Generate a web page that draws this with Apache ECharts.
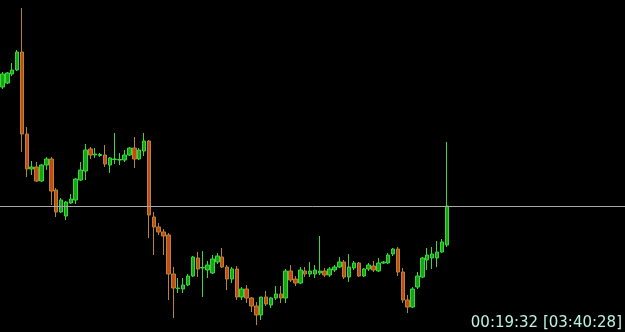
<!DOCTYPE html>
<html>
<head>
<meta charset="utf-8">
<script src="https://cdn.jsdelivr.net/npm/echarts@6/dist/echarts.min.js"></script>
<style>
html,body{margin:0;padding:0;background:#000;}
#chart{width:625px;height:332px;}
</style>
</head>
<body>
<div id="chart"></div>
<script>
// candle values (price units), index = bar number
const opens  = [245,249,258,262,280,198,163,165,151,167,173,142,120,116,129,132,152,161,183,177,176.5,177,167,172.5,172,172,177,184,173,181,191,115,105,100,97,58,43.5,43,47,56,74,64,62,59,70,75,65,53,63,35,43,34,26,17,35,27,34,38,34,61,53,49,61,58,58,59,61,57,62,65,70,55,64,69,56,63,66,61,69,69,78,83,60,32,25,45,55,72,74,74,80,87];
const closes = [258,259,262,280,198,163,165,151,167,173,141,120,132,130,133,153,162,182,177,178,177.5,168,174,173,172.5,177,184,173,182,191,117,105,100,96,58,44,44,47,56,75,63,64.5,67,73,76,65,53,63,35,43,34,26,17,35,28,34,38,34,61,52,49,62,58,61,62,61,57,63,65,70,55,65,69,56,63,67,62,69,70,77,83,60,32,25,43,56,74,77,78,80,90,126];
const lows   = [243,248,256,261,180,155,157,150,150,162,127,115,119,112,128,128,151,152,173,174,175,165,159,168,167,170,176,164,172,176,94,77,97,77,32,14,39,39,46,55,55,35,54,58,68,64,42,49,32,32,29,20,7,12,26,24,32,29,29,50,46,48,55,55,54,57,55,55,60,64,53,50,62,55,55,61,60,60,68,68,76,56,29,19,24,43,54,62,63,65,79,85];
const highs  = [260,260,269,282,324,205,171,170,168,175,175,144,134,131,138,154,170,188,185,184,179,187,175,199,179,182,185,195,184,199,192,120,109,103,99,65,54,54,58,76,80,81,71,77,79,84,67,65,66,45,47,35,30,35,41,35,46,46,63,67,56,65,65,70,67,96,64,65,67,75,72,78,71,70,64,69,71,74,71,79,84,85,64,37,45,60,75,84,85,91,93,190];
const bidLevel = 126;
const clockText = '00:19:32 [03:40:28]';
const totalSlots = 128;

const categories = [];
for (let i = 0; i < totalSlots; i++) categories.push(String(i));
const candles = opens.map((o, i) => [o, closes[i], lows[i], highs[i]]);

const chart = echarts.init(document.getElementById('chart'), null, {renderer: 'canvas'});
chart.setOption({
  backgroundColor: '#000000',
  animation: false,
  grid: {left: -2.36, top: 0, width: totalSlots * 4.91, height: 332, containLabel: false},
  xAxis: {type: 'category', data: categories, show: false, boundaryGap: true},
  yAxis: {type: 'value', min: 0, max: 332, show: false, splitLine: {show: false}},
  series: [{
    type: 'candlestick',
    data: candles,
    barWidth: 4,
    itemStyle: {
      color: '#16a416',
      borderColor: '#3bd83b',
      color0: '#c4481a',
      borderColor0: '#b8862c',
      borderWidth: 1
    },
    markLine: {
      silent: true,
      symbol: 'none',
      label: {show: false},
      lineStyle: {color: '#a8a8a8', width: 1, type: 'solid'},
      data: [{yAxis: bidLevel}]
    }
  }],
  graphic: [{
    type: 'text',
    right: 3,
    bottom: 1,
    style: {
      text: clockText,
      fill: '#bdf3df',
      font: '15px "DejaVu Sans"'
    }
  }]
});
</script>
</body>
</html>
